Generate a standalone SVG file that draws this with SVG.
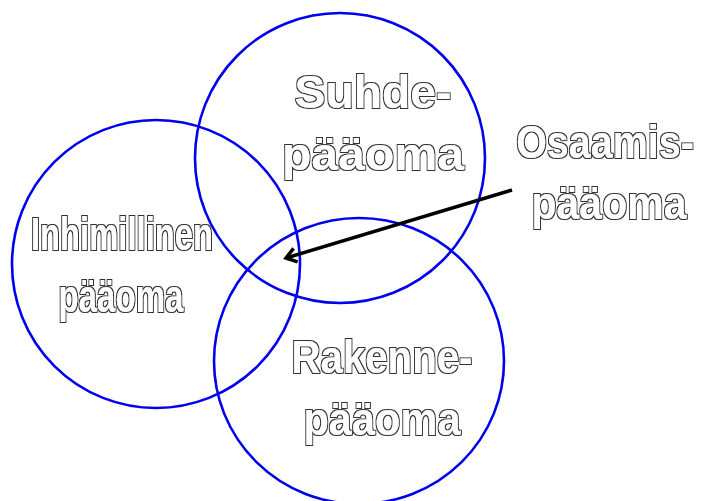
<svg xmlns="http://www.w3.org/2000/svg" width="704" height="501" viewBox="0 0 704 501">
  <style>
    .ring { fill: none; stroke: #0000ee; stroke-width: 2.6; }
    .label { font-family: "Liberation Sans", Arial, Helvetica, sans-serif; font-weight: 700; font-size: 47px; text-anchor: middle; fill: #ffffff; filter: url(#outlined); }
    .link { fill: none; stroke: #000000; stroke-width: 3.5; }
  </style>
  <defs>
    <!-- outlined lettering: white glyph body with a thin dark rim around it -->
    <filter id="outlined" x="-10%" y="-20%" width="120%" height="140%">
      <feMorphology in="SourceAlpha" operator="dilate" radius="1.3" result="outer"/>
      <feFlood flood-color="#333333" result="darkInk"/>
      <feComposite in="darkInk" in2="outer" operator="in" result="rim"/>
      <feFlood flood-color="#ffffff" result="whiteInk"/>
      <feComposite in="whiteInk" in2="SourceAlpha" operator="in" result="body"/>
      <feMerge>
        <feMergeNode in="rim"/>
        <feMergeNode in="body"/>
      </feMerge>
    </filter>
    <marker id="openHead" markerUnits="userSpaceOnUse" markerWidth="20" markerHeight="20" refX="12" refY="10" orient="auto">
      <path d="M2,3 L12,10 L2,17" fill="none" stroke="#000000" stroke-width="3.5" stroke-linejoin="miter"/>
    </marker>
  </defs>
  <rect width="704" height="501" fill="#ffffff"/>

  <g id="suhdepaaoma">
    <circle class="ring" cx="340" cy="158" r="145"/>
    <text class="label" x="373" y="108" textLength="157" lengthAdjust="spacingAndGlyphs">Suhde-</text>
    <text class="label" x="373" y="170" textLength="182" lengthAdjust="spacingAndGlyphs">pääoma</text>
  </g>

  <g id="inhimillinen">
    <circle class="ring" cx="156" cy="264" r="144"/>
    <text class="label" x="122" y="250" textLength="182" lengthAdjust="spacingAndGlyphs">Inhimillinen</text>
    <text class="label" x="121" y="312" textLength="125" lengthAdjust="spacingAndGlyphs">pääoma</text>
  </g>

  <g id="rakennepaaoma">
    <ellipse class="ring" cx="359" cy="361" rx="145" ry="143"/>
    <text class="label" x="382" y="373" textLength="181" lengthAdjust="spacingAndGlyphs">Rakenne-</text>
    <text class="label" x="382" y="435" textLength="157" lengthAdjust="spacingAndGlyphs">pääoma</text>
  </g>

  <g id="osaamispaaoma">
    <text class="label" transform="translate(605,158) scale(0.84,1)" x="0" y="0">Osaamis-</text>
    <text class="label" transform="translate(609,219) scale(0.873,1)" x="0" y="0">pääoma</text>
  </g>

  <g id="connectors">
    <line class="link" x1="512" y1="190" x2="286" y2="258" marker-end="url(#openHead)"/>
  </g>
</svg>
